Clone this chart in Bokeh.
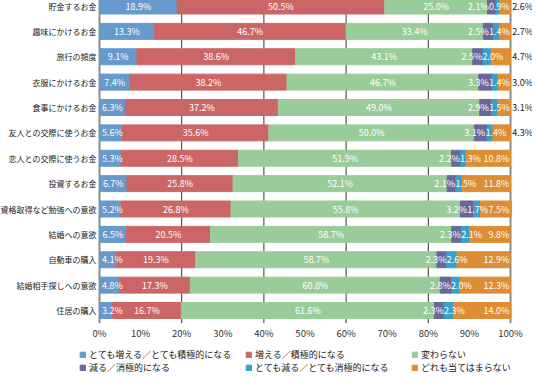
from bokeh.plotting import figure
from bokeh.models import ColumnDataSource, Range1d, Legend, LegendItem
from bokeh.core.properties import value
from bokeh.embed import file_html
from bokeh.resources import INLINE

# ---------------- data ----------------
categories = ["貯金するお金", "趣味にかけるお金", "旅行の頻度", "衣服にかけるお金",
              "食事にかけるお金", "友人との交際に使うお金", "恋人との交際に使うお金",
              "投資するお金", "資格取得など勉強への意欲", "結婚への意欲",
              "自動車の購入", "結婚相手探しへの意欲", "住居の購入"]
much_more = [18.9, 13.3, 9.1, 7.4, 6.3, 5.6, 5.3, 6.7, 5.2, 6.5, 4.1, 4.8, 3.2]
more = [50.5, 46.7, 38.6, 38.2, 37.2, 35.6, 28.5, 25.8, 26.8, 20.5, 19.3, 17.3, 16.7]
same = [25.0, 33.4, 43.1, 46.7, 49.0, 50.0, 51.9, 52.1, 55.8, 58.7, 58.7, 60.8, 61.6]
less = [2.1, 2.5, 2.5, 3.3, 2.9, 3.1, 2.2, 2.1, 3.2, 2.3, 2.3, 2.8, 2.3]
much_less = [0.9, 1.4, 2.0, 1.4, 1.5, 1.4, 1.3, 1.5, 1.7, 2.1, 2.6, 2.0, 2.3]
none_apply = [2.6, 2.7, 4.7, 3.0, 3.1, 4.3, 10.8, 11.8, 7.5, 9.8, 12.9, 12.3, 14.0]

series_names = ["とても増える／とても積極的になる", "増える／積極的になる", "変わらない",
                "減る／消極的になる", "とても減る／とても消極的になる", "どれも当てはまらない"]
x_ticks = [0, 10, 20, 30, 40, 50, 60, 70, 80, 90, 100]
x_tick_labels = ["0%", "10%", "20%", "30%", "40%", "50%", "60%", "70%", "80%", "90%", "100%"]
grid_ticks = [20, 40, 60, 80]
edge_ticks = [0, 100]

# ---------------- styles ----------------
colors = ["#6699cc", "#cc6666", "#99cc99", "#6a6699", "#36a0c8", "#dd8d33"]
FONT = "Noto Sans CJK JP"
W, H = 540, 383
LEFT, RIGHT_100 = 107, 518
PX = (RIGHT_100 - LEFT) / 100.0    # px per percent
PY = 25.375                        # px per category row
FIRST_ROW_PX = 13.5
TICK_PX = 340
FS = 9

n = len(categories)
row_y = [-i for i in range(n)]
y_end = FIRST_ROW_PX / PY
y_start = y_end - H / PY
band_top, band_bot = 0.5, -(n - 1) - 0.5
tick_y = y_end - TICK_PX / PY

keys = ["s0", "s1", "s2", "s3", "s4", "s5"]
series = [much_more, more, same, less, much_less, none_apply]
data = {"yy": row_y}
for k, s in zip(keys, series):
    data[k] = s
source = ColumnDataSource(data)

p = figure(width=W, height=H, output_backend="svg", toolbar_location=None,
           x_range=Range1d(-LEFT / PX, (W - LEFT) / PX),
           y_range=Range1d(y_start, y_end),
           x_axis_location=None, y_axis_location=None,
           min_border_left=0, min_border_right=0, min_border_top=0,
           min_border_bottom=0,
           styles={"margin": "-8px -8px -8px -8px"})
p.outline_line_color = None
p.background_fill_color = "white"
p.grid.visible = False

# grid lines (under the bars)
p.segment(x0=grid_ticks, x1=grid_ticks, y0=[band_bot] * len(grid_ticks),
          y1=[band_top] * len(grid_ticks), line_color="#333333", line_width=1)
p.segment(x0=edge_ticks, x1=edge_ticks, y0=[band_bot] * len(edge_ticks),
          y1=[band_top] * len(edge_ticks), line_color="#8a8a8a", line_width=2)

renderers = p.hbar_stack(keys, y="yy", height=0.63, color=colors, source=source)

# category labels (left axis)
p.text(x=[-3 / PX] * n, y=row_y, text=categories, text_align="right",
       text_baseline="middle", text_font=value(FONT), text_font_size="8px",
       text_color="#222222")

# percentage tick labels (bottom axis)
p.text(x=x_ticks, y=[tick_y] * len(x_ticks), text=x_tick_labels,
       text_align="center", text_baseline="middle", text_font=value(FONT),
       text_font_size="9.5px", text_color="#333333")


# ---------------- value labels ----------------
def text_w(s):
    em = sum(0.553 if c.isdigit() else 0.27 if c == "." else 0.86 for c in s)
    return em * FS / PX


GAP = 1.0 / PX
lx, ly, lt, lc = [], [], [], []
for i in range(n):
    vals = [s[i] for s in series]
    texts = [f"{v:.1f}%" for v in vals]
    ws = [text_w(t) for t in texts]
    starts = []
    c = 0.0
    for v in vals:
        starts.append(c)
        c += v
    cen = [st + v / 2 for st, v in zip(starts, vals)]
    cols = ["white"] * 6
    cen[0] = max(cen[0], 0.7 + ws[0] / 2)
    if vals[5] >= 5:
        cen[5] = 99.6 - ws[5] / 2
        bound = cen[5] - ws[5] / 2 - GAP
    else:
        cen[5] = 100.5 + ws[5] / 2
        cols[5] = "#222222"
        bound = 99.75
    need = (ws[3] + ws[4]) / 2 + GAP
    d = cen[4] - cen[3]
    if d < need:
        sh = (need - d) / 2
        cen[3] -= sh
        cen[4] += sh
    if cen[4] + ws[4] / 2 > bound:
        cen[4] = bound - ws[4] / 2
    if cen[4] - cen[3] < need:
        cen[3] = cen[4] - need
    for j in range(6):
        lx.append(cen[j])
        ly.append(row_y[i])
        lt.append(texts[j])
        lc.append(cols[j])

lsrc = ColumnDataSource(dict(x=lx, y=ly, text=lt, color=lc))
p.text(x="x", y="y", text="text", text_color="color", source=lsrc,
       text_align="center", text_baseline="middle",
       text_font=value(FONT), text_font_size=f"{FS}px")

# ---------------- legend ----------------
items = [LegendItem(label=nm, renderers=[r]) for nm, r in zip(series_names, renderers)]
legend = Legend(items=items, ncols=3, orientation="horizontal", location=(87, 1),
                glyph_width=7, glyph_height=7, label_standoff=3, label_width=156,
                label_height=9, spacing=0, padding=0, margin=0,
                label_text_font=FONT, label_text_font_size="9px",
                label_text_color="#222222",
                border_line_color=None, background_fill_alpha=0)
p.add_layout(legend)

open("out.html", "w").write(file_html(p, INLINE))
